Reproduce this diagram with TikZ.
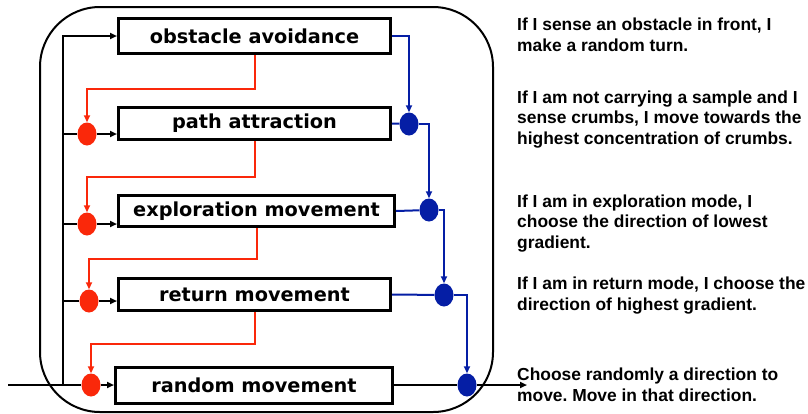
\documentclass[tikz,border=0pt]{standalone}
\usepackage{fontspec}
\setmainfont{Liberation Sans}
\newfontfamily\boxfont{DejaVu Sans}
\usetikzlibrary{arrows.meta,shapes.geometric}
\definecolor{inhred}{RGB}{250,40,10}
\definecolor{supblue}{RGB}{5,30,165}
\frenchspacing

\begin{document}
\begin{tikzpicture}[x=1pt,y=-1pt]
    \tikzset{behav/.style=   {draw,
                              rectangle,
                              line width=3pt,
                              font=\boxfont\bfseries\fontsize{19.3}{23}\selectfont,
                              minimum width=272pt,
                              minimum height=32pt},
             inhibit/.style= {ellipse,
                              fill=inhred,
                              inner sep=0pt,
                              minimum width=19pt,
                              minimum height=23pt},
             suppress/.style={ellipse,
                              fill=supblue,
                              inner sep=0pt,
                              minimum width=19pt,
                              minimum height=23pt},
             note/.style=    {align=left,
                              anchor=base west,
                              inner sep=0pt,
                              font=\bfseries\fontsize{17.4}{20.5}\selectfont},
             tip/.style=     {-{Triangle[length=7pt,width=6pt]}},
             redline/.style= {draw=inhred, line width=2pt},
             blueline/.style={draw=supblue, line width=2pt},
             busline/.style= {draw=black, line width=2.3pt},
            }
    \useasboundingbox (0,0) rectangle (808,413);
    \draw[line width=2pt, rounded corners=60pt] (40,7) rectangle (493,412);
    \path
    (254.5,36)    node[behav,minimum height=35pt](oa) {obstacle avoidance}
    (254.5,123.5) node[behav](pa) {path attraction}
    (256.5,211)   node[behav,minimum width=276pt,minimum height=31pt](ex) {exploration movement}
    (254.5,294.5) node[behav](rt) {return movement}
    (254,385)     node[behav,minimum width=277pt,minimum height=36pt](rm) {random movement}
    (87,134)  node[inhibit](i1) {}
    (87,224)  node[inhibit](i2) {}
    (89,301)  node[inhibit](i3) {}
    (91,385)  node[inhibit](i4) {}
    (409,124) node[suppress](s1) {}
    (429,210) node[suppress](s2) {}
    (444,295) node[suppress](s3) {}
    (467,385) node[suppress](s4) {}
    (8,385)   coordinate(in)
    (63,385)  coordinate(bus)
    (527,385) coordinate(out)
    (517,51)  node[note](n1) {If I sense an obstacle in front, I\\make a random turn.}
    (517,144) node[note](n2) {If I am not carrying a sample and I\\sense crumbs, I move towards the\\highest concentration of crumbs.}
    (517,248) node[note](n3) {If I am in exploration mode, I\\choose the direction of lowest\\gradient.}
    (517,310) node[note](n4) {If I am in return mode, I choose the\\direction of highest gradient.}
    (517,401) node[note](n5) {Choose randomly a direction to\\move. Move in that direction.}
    ;
    % input and bus
    \draw[busline]     (in) -- (i4);
    \draw[busline,tip] (bus) |- (oa.west);
    \draw[busline]     (i1 -| bus) -- (i1);
    \draw[busline]     (i2 -| bus) -- (i2);
    \draw[busline]     (i3 -| bus) -- (i3);
    \draw[busline,tip] (i1) -- (i1 -| pa.west);
    \draw[busline,tip] (i2) -- (i2 -| ex.west);
    \draw[busline,tip] (i3) -- (i3 -| rt.west);
    \draw[busline,tip] (i4) -- (rm.west);
    % inhibition
    \draw[redline,tip] (oa.south) -- ++(0,34) -| (i1.north);
    \draw[redline,tip] (pa.south) -- ++(0,36) -| (i2.north);
    \draw[redline,tip] (ex.south) -- ++(0,31) -| (i3.north);
    \draw[redline,tip] (rt.south) -- ++(0,32) -| (i4.north);
    % suppression
    \draw[blueline,tip] (oa.east) -| (s1.north);
    \draw[blueline]     (pa.east) -- (s1);
    \draw[blueline,tip] (s1.east) -| (s2.north);
    \draw[blueline]     (ex.east) -- (s2);
    \draw[blueline,tip] (s2.east) -| (s3.north);
    \draw[blueline]     (rt.east) -- (s3);
    \draw[blueline,tip] (s3.east) -| (s4.north);
    \draw[busline]      (rm.east) -- (s4);
    \draw[busline,tip]  (s4) -- (out);
\end{tikzpicture}
\end{document}
